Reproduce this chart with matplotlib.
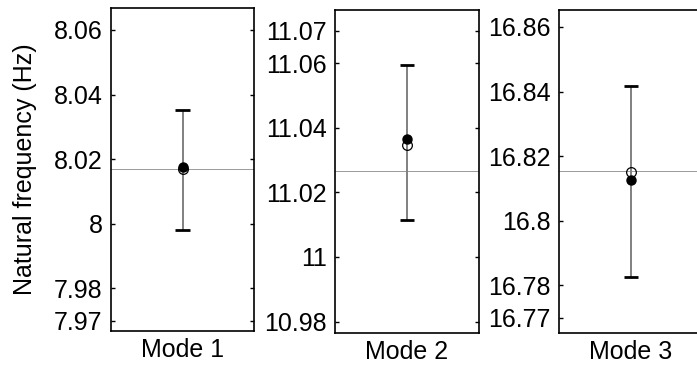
import matplotlib
matplotlib.use("Agg")
import matplotlib.pyplot as plt

plt.rcParams['font.family'] = ['Liberation Sans', 'DejaVu Sans']

# values
modes = ['Mode 1', 'Mode 2', 'Mode 3']
ref_line = [8.0168, 11.0265, 16.8153]
open_vals = [8.0170, 11.0347, 16.8151]
filled_vals = [8.0176, 11.0364, 16.8127]
err_low = [7.9982, 11.0115, 16.7826]
err_high = [8.0351, 11.0595, 16.8416]
yticks = [
    [7.97, 7.98, 8, 8.02, 8.04, 8.06],
    [10.98, 11, 11.02, 11.04, 11.06, 11.07],
    [16.77, 16.78, 16.8, 16.82, 16.84, 16.86],
]
ytick_labels = [
    ['7.97', '7.98', '8', '8.02', '8.04', '8.06'],
    ['10.98', '11', '11.02', '11.04', '11.06', '11.07'],
    ['16.77', '16.78', '16.8', '16.82', '16.84', '16.86'],
]

fig = plt.figure(figsize=(6.97, 3.77), dpi=100)
lefts = [0.159, 0.481, 0.802]
bottoms = [0.122, 0.117, 0.117]

for i in range(3):
    ax = fig.add_axes([lefts[i], bottoms[i], 0.206, 0.857])
    ax.set_xlim(0, 2)
    ax.set_ylim(ref_line[i] - 0.05, ref_line[i] + 0.05)
    ax.axhline(ref_line[i], color='#999999', lw=0.7, zorder=1)
    # error bar: gray stem, black caps
    ax.vlines(1, err_low[i], err_high[i], color='#808080', lw=1.4, zorder=2)
    ax.hlines([err_low[i], err_high[i]], 0.9, 1.1, color='black', lw=2, zorder=3)
    ax.plot(1, open_vals[i], 'o', ms=7, mfc='none', mec='black', mew=0.9, zorder=4)
    ax.plot(1, filled_vals[i], 'o', ms=6.5, mfc='black', mec='black', zorder=5)
    ax.set_yticks(yticks[i])
    ax.set_yticklabels(ytick_labels[i])
    ax.set_xticks([])
    ax.tick_params(axis='y', direction='in', length=3, width=1, right=True,
                   labelsize=18, pad=6)
    ax.set_xlabel(modes[i], fontsize=18, labelpad=5)
    for s in ax.spines.values():
        s.set_linewidth(1.2)
    if i == 0:
        ax.set_ylabel('Natural frequency (Hz)', fontsize=18, labelpad=12)

fig.savefig('out.png', dpi=100)
